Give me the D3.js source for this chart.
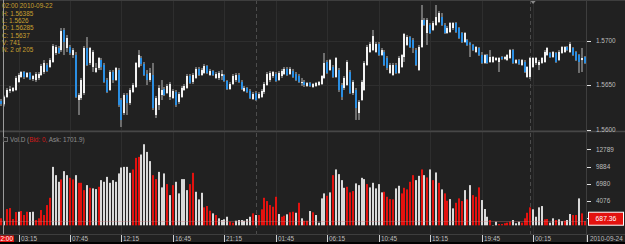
<!DOCTYPE html>
<html>
<head>
<meta charset="utf-8">
<script src="https://cdn.jsdelivr.net/npm/d3@7"></script>
<style>
  html, body { margin: 0; padding: 0; background: #000; }
  #chart { width: 625px; height: 244px; }
  text { font-family: "Liberation Sans", Arial, sans-serif; }
</style>
</head>
<body>
<div id="chart"></div>
<script>
// 15-minute bars, first bar at this time
const startTime = '2010-09-22 01:45';

const open = [
  1.56322,1.56285,1.56367,1.56434,1.56434,1.56445,1.56535,1.56591,1.56647,1.56591,
  1.56636,1.56568,1.56557,1.56580,1.56613,1.56647,1.56725,1.56703,1.56759,1.56860,
  1.56916,1.56893,1.57118,1.56916,1.56927,1.56837,1.56837,1.56333,1.56355,1.56411,
  1.56916,1.56748,1.56703,1.56647,1.56692,1.56781,1.56725,1.56557,1.56445,1.56647,
  1.56557,1.56669,1.56333,1.56187,1.56389,1.56299,1.56423,1.56479,1.56703,1.56804,
  1.56737,1.56624,1.56557,1.56613,1.56165,1.56277,1.56389,1.56456,1.56411,1.56367,
  1.56355,1.56423,1.56311,1.56367,1.56445,1.56468,1.56602,1.56535,1.56580,1.56681,
  1.56613,1.56636,1.56714,1.56613,1.56658,1.56580,1.56580,1.56602,1.56613,1.56546,
  1.56456,1.56512,1.56557,1.56613,1.56535,1.56434,1.56468,1.56434,1.56344,1.56411,
  1.56355,1.56367,1.56423,1.56501,1.56557,1.56602,1.56624,1.56557,1.56602,1.56624,
  1.56681,1.56624,1.56658,1.56624,1.56602,1.56524,1.56535,1.56490,1.56524,1.56479,
  1.56490,1.56501,1.56512,1.56580,1.56759,1.56669,1.56703,1.56591,1.56669,1.56501,
  1.56468,1.56501,1.56647,1.56411,1.56445,1.56187,1.56333,1.56445,1.56725,1.56871,
  1.56893,1.56871,1.56961,1.56837,1.56871,1.56804,1.56636,1.56613,1.56725,1.56636,
  1.56703,1.56815,1.56950,1.57039,1.57006,1.56893,1.56669,1.56927,1.57230,1.57084,
  1.57174,1.57118,1.57174,1.57207,1.57263,1.57174,1.57084,1.57095,1.57140,1.57196,
  1.57140,1.57084,1.56983,1.57006,1.56972,1.56950,1.56871,1.56916,1.56837,1.56748,
  1.56837,1.56759,1.56759,1.56781,1.56759,1.56815,1.56793,1.56781,1.56804,1.56893,
  1.56748,1.56781,1.56725,1.56759,1.56591,1.56591,1.56703,1.56748,1.56725,1.56748,
  1.56759,1.56837,1.56860,1.56815,1.56860,1.56781,1.56860,1.56871,1.56927,1.56871,
  1.56916,1.56871,1.56837,1.56781,1.56815
];

const high = [
  1.56344,1.56385,1.56468,1.56490,1.56479,1.56602,1.56636,1.56658,1.56658,1.56647,
  1.56647,1.56613,1.56647,1.56647,1.56737,1.56781,1.56748,1.56804,1.56961,1.56950,
  1.56938,1.57140,1.57140,1.57062,1.56950,1.56916,1.56871,1.56411,1.56580,1.56938,
  1.57039,1.56927,1.56893,1.56748,1.56815,1.56804,1.56748,1.56580,1.56669,1.56669,
  1.56703,1.56692,1.56355,1.56411,1.56411,1.56468,1.56524,1.56759,1.56893,1.56826,
  1.56759,1.56669,1.56692,1.56748,1.56378,1.56501,1.56557,1.56479,1.56512,1.56535,
  1.56456,1.56445,1.56423,1.56490,1.56512,1.56624,1.56624,1.56636,1.56703,1.56703,
  1.56692,1.56737,1.56725,1.56681,1.56669,1.56647,1.56658,1.56669,1.56624,1.56557,
  1.56535,1.56624,1.56636,1.56636,1.56557,1.56490,1.56479,1.56456,1.56423,1.56434,
  1.56423,1.56456,1.56535,1.56647,1.56658,1.56658,1.56647,1.56658,1.56681,1.56703,
  1.56703,1.56703,1.56681,1.56647,1.56624,1.56580,1.56557,1.56535,1.56535,1.56524,
  1.56535,1.56546,1.56613,1.56860,1.56781,1.56793,1.56725,1.56815,1.56692,1.56524,
  1.56602,1.56781,1.56669,1.56557,1.56468,1.56333,1.56557,1.56770,1.56950,1.56983,
  1.57118,1.56983,1.56983,1.56916,1.56893,1.56826,1.56748,1.56748,1.56748,1.56826,
  1.56849,1.57084,1.57062,1.57050,1.57028,1.56916,1.56950,1.57398,1.57252,1.57252,
  1.57196,1.57219,1.57398,1.57331,1.57308,1.57196,1.57163,1.57207,1.57207,1.57207,
  1.57151,1.57095,1.57095,1.57017,1.56983,1.56961,1.56938,1.56927,1.56871,1.56849,
  1.56849,1.56893,1.56826,1.56815,1.56815,1.56826,1.56826,1.56849,1.56905,1.56905,
  1.56793,1.56793,1.56793,1.56781,1.56714,1.56815,1.56815,1.56815,1.56781,1.56815,
  1.56893,1.56927,1.56871,1.56882,1.56871,1.56893,1.56938,1.56938,1.56938,1.56983,
  1.56927,1.56882,1.56849,1.56916,1.56826
];

const low = [
  1.56266,1.56260,1.56355,1.56411,1.56423,1.56434,1.56524,1.56580,1.56568,1.56580,
  1.56557,1.56546,1.56535,1.56557,1.56602,1.56624,1.56647,1.56692,1.56748,1.56837,
  1.56849,1.56871,1.56837,1.56871,1.56837,1.56804,1.56355,1.56165,1.56333,1.56389,
  1.56714,1.56725,1.56647,1.56636,1.56669,1.56669,1.56524,1.56411,1.56434,1.56524,
  1.56546,1.56255,1.56030,1.56165,1.56165,1.56277,1.56411,1.56468,1.56692,1.56714,
  1.56602,1.56501,1.56535,1.56221,1.56131,1.56221,1.56333,1.56378,1.56400,1.56333,
  1.56344,1.56255,1.56288,1.56355,1.56434,1.56456,1.56512,1.56512,1.56568,1.56602,
  1.56602,1.56624,1.56624,1.56602,1.56602,1.56568,1.56557,1.56557,1.56535,1.56445,
  1.56445,1.56501,1.56535,1.56524,1.56445,1.56423,1.56411,1.56344,1.56333,1.56322,
  1.56344,1.56355,1.56400,1.56490,1.56535,1.56580,1.56535,1.56546,1.56580,1.56613,
  1.56602,1.56613,1.56580,1.56546,1.56524,1.56490,1.56479,1.56479,1.56479,1.56468,
  1.56479,1.56490,1.56501,1.56568,1.56624,1.56658,1.56580,1.56580,1.56423,1.56333,
  1.56445,1.56490,1.56400,1.56389,1.56109,1.56109,1.56322,1.56434,1.56714,1.56860,
  1.56882,1.56860,1.56826,1.56826,1.56714,1.56669,1.56624,1.56602,1.56624,1.56624,
  1.56692,1.56759,1.56938,1.56916,1.56860,1.56714,1.56658,1.56916,1.57163,1.56950,
  1.57073,1.57106,1.57163,1.57196,1.57163,1.57073,1.57073,1.57084,1.57118,1.57084,
  1.57017,1.56972,1.56972,1.56938,1.56815,1.56882,1.56860,1.56826,1.56737,1.56737,
  1.56737,1.56748,1.56748,1.56770,1.56647,1.56781,1.56781,1.56770,1.56793,1.56737,
  1.56737,1.56725,1.56714,1.56636,1.56580,1.56568,1.56692,1.56725,1.56669,1.56737,
  1.56748,1.56826,1.56804,1.56804,1.56748,1.56770,1.56849,1.56860,1.56882,1.56860,
  1.56826,1.56770,1.56636,1.56647,1.56737
];

const close = [
  1.56288,1.56370,1.56445,1.56456,1.56468,1.56580,1.56613,1.56647,1.56591,1.56636,
  1.56568,1.56602,1.56624,1.56624,1.56714,1.56748,1.56658,1.56781,1.56938,1.56927,
  1.56860,1.57106,1.56983,1.57028,1.56860,1.56893,1.56367,1.56389,1.56557,1.56916,
  1.56725,1.56916,1.56871,1.56692,1.56804,1.56703,1.56535,1.56423,1.56647,1.56557,
  1.56692,1.56277,1.56109,1.56389,1.56299,1.56445,1.56501,1.56748,1.56837,1.56737,
  1.56613,1.56557,1.56636,1.56243,1.56355,1.56468,1.56445,1.56389,1.56490,1.56512,
  1.56434,1.56277,1.56400,1.56468,1.56490,1.56602,1.56524,1.56613,1.56681,1.56613,
  1.56669,1.56714,1.56636,1.56658,1.56613,1.56624,1.56636,1.56624,1.56546,1.56456,
  1.56512,1.56602,1.56613,1.56535,1.56456,1.56468,1.56423,1.56355,1.56400,1.56333,
  1.56400,1.56434,1.56512,1.56624,1.56636,1.56647,1.56546,1.56636,1.56658,1.56681,
  1.56613,1.56681,1.56591,1.56557,1.56535,1.56535,1.56501,1.56524,1.56490,1.56512,
  1.56524,1.56535,1.56602,1.56748,1.56636,1.56781,1.56591,1.56804,1.56445,1.56367,
  1.56580,1.56759,1.56411,1.56535,1.56243,1.56311,1.56535,1.56748,1.56927,1.56961,
  1.57050,1.56961,1.56837,1.56893,1.56725,1.56692,1.56725,1.56725,1.56636,1.56804,
  1.56837,1.57073,1.57039,1.56927,1.56916,1.56725,1.56927,1.57230,1.57174,1.57230,
  1.57084,1.57196,1.57263,1.57308,1.57174,1.57084,1.57140,1.57196,1.57196,1.57095,
  1.57028,1.56983,1.57084,1.56950,1.56950,1.56893,1.56927,1.56837,1.56748,1.56837,
  1.56748,1.56815,1.56815,1.56804,1.56804,1.56793,1.56815,1.56837,1.56893,1.56748,
  1.56781,1.56737,1.56781,1.56647,1.56703,1.56804,1.56804,1.56804,1.56759,1.56804,
  1.56871,1.56916,1.56815,1.56871,1.56759,1.56871,1.56927,1.56927,1.56893,1.56961,
  1.56837,1.56781,1.56759,1.56804,1.56748
];

const volume = [
  1180,741,2730,2900,1060,2230,2280,2400,1730,2280,
  2230,2280,890,1175,2570,1730,3400,4630,9830,8440,
  7320,7720,9110,8440,7990,7720,8440,7150,7150,5920,
  6760,6310,6210,6090,6480,7600,7320,8150,7150,7600,
  7320,8730,9730,9830,9830,8830,9400,11340,11510,11910,
  13640,12350,10800,8440,7770,8990,6380,8730,6930,5080,
  6760,7320,5370,7770,7770,5920,6930,8830,5640,4360,
  5470,3020,3240,2450,2010,1730,1175,890,1010,1440,
  600,440,770,890,890,770,1060,1440,2010,1730,
  1730,2690,4630,4080,3410,3120,4800,1900,1440,1610,
  1850,2180,2280,2110,3790,1175,770,770,2400,2180,
  1730,440,4530,5370,4970,5540,8440,9400,8610,7600,
  6310,6480,5540,5760,7050,6760,7990,7770,6930,6380,
  7150,6210,6930,5540,5640,4800,4410,4360,6210,6650,
  5370,6310,6040,7320,8440,7600,8320,9400,8440,8050,
  9400,7600,8890,7150,6040,5370,4130,4410,2850,3790,
  4530,4080,5920,4360,6760,5080,4800,6380,4250,2740,
  1440,890,50,600,220,220,340,440,600,890,
  340,600,440,1175,2110,3020,2690,1440,3020,3240,
  1010,1060,440,1175,890,1010,720,770,890,1900,
  1730,1730,4530,2010,687.36
];

// 1 = ask volume (light bar), 0 = bid volume (red bar)
const volSide = [
  0,1,0,0,0,0,1,0,0,0,
  1,1,0,0,0,0,0,0,1,1,
  1,0,1,1,0,0,1,0,0,0,
  1,0,1,1,0,1,1,1,1,1,
  1,1,1,1,1,1,0,0,0,1,
  1,1,1,0,0,1,1,1,0,1,
  0,1,1,1,1,1,0,0,1,1,
  1,0,0,0,1,0,1,1,1,1,
  0,0,1,1,1,1,1,1,0,1,
  0,0,0,0,0,0,0,1,0,0,
  1,0,0,1,0,1,0,0,1,0,
  1,1,1,1,0,1,0,1,1,1,
  1,0,0,0,1,1,1,1,0,1,
  1,1,1,1,0,0,0,0,1,1,
  0,0,0,0,0,1,1,0,1,0,
  1,0,1,0,1,0,0,1,1,0,
  0,0,1,0,1,0,0,0,1,1,
  1,0,1,1,0,0,0,0,0,1,
  1,1,0,0,0,0,1,1,1,1,
  0,0,1,1,0,1,1,0,1,1,
  0,0,1,0,0
];

const priceTicks = [1.5600, 1.5650, 1.5700];
const volumeTicks = [1171, 4076, 6980, 9884, 12789];
const infoLines = ['02:00 2010-09-22', 'H: 1.56385', 'L: 1.5626', 'O: 1.56285', 'C: 1.5637', 'V: 741', 'N: 2 of 205'];
const volumeLegend = ['Vol.D (', 'Bid: 0,', ' Ask: 1701.9)'];
const cursorIndex = 1;

document.addEventListener('DOMContentLoaded', () => {
  const CONFIG = {
    width: 625,
    height: 244,
    plotRight: 586,
    priceBottom: 131,
    volBottom: 234,
    axisBottom: 242,
    bg: '#212121',
    grid: '#2e2e2e',
    frame: '#3e3e3e',
    tickText: '#bdbdbd',
    upColor: '#f2f2f2',
    downColor: '#2b8fe3',
    wickColor: '#6e6e6e',
    askColor: '#d9d9d9',
    bidColor: '#e3120f',
    infoColor: '#c9a030',
    fontSize: 6.4,
    barWidth: 2
  };

  const parse = d3.timeParse('%Y-%m-%d %H:%M');
  const t0 = parse(startTime);
  const bars = close.map((c, i) => ({
    i, o: open[i], h: high[i], l: low[i], c,
    v: volume[i], side: volSide[i],
    t: d3.timeMinute.offset(t0, 15 * i)
  }));

  const svg = d3.select('#chart').append('svg')
    .attr('width', CONFIG.width)
    .attr('height', CONFIG.height)
    .style('display', 'block');

  svg.append('rect')
    .attr('width', CONFIG.width).attr('height', CONFIG.height)
    .attr('fill', '#000');
  svg.append('rect')
    .attr('width', CONFIG.width).attr('height', CONFIG.axisBottom)
    .attr('fill', CONFIG.bg);

  // scales
  const x = d3.scaleBand()
    .domain(bars.map(d => d.i))
    .range([0, CONFIG.plotRight]);
  const cx = i => x(i) + x.bandwidth() / 2;
  const bx = i => Math.round(cx(i) - CONFIG.barWidth / 2);

  const y = d3.scaleLinear().domain([1.5600, 1.5700]).range([129.7, 40.5]);
  const yv = d3.scaleLinear().domain([0, 12789]).range([225.3, 149.3]);

  // time ticks every 4.5 hours, day breaks at midnight
  const fmtTime = d3.timeFormat('%H:%M');
  const timeTicks = bars.filter(d => d3.timeMinute.count(t0, d.t) % 270 === 90 && d.i < bars.length - 9);
  const dayBreaks = bars.filter(d => d.t.getHours() === 0 && d.t.getMinutes() === 0);

  const grid = svg.append('g');
  grid.selectAll('line.vg')
    .data(timeTicks).enter().append('line')
    .attr('x1', d => Math.round(cx(d.i)) + 0.5).attr('x2', d => Math.round(cx(d.i)) + 0.5)
    .attr('y1', 0).attr('y2', CONFIG.volBottom)
    .attr('stroke', CONFIG.grid);
  grid.selectAll('line.hg')
    .data(priceTicks).enter().append('line')
    .attr('x1', 0).attr('x2', CONFIG.plotRight)
    .attr('y1', d => Math.round(y(d)) + 0.5).attr('y2', d => Math.round(y(d)) + 0.5)
    .attr('stroke', CONFIG.grid);
  grid.selectAll('line.day')
    .data(dayBreaks).enter().append('line')
    .attr('x1', d => Math.round(cx(d.i)) + 0.5).attr('x2', d => Math.round(cx(d.i)) + 0.5)
    .attr('y1', 0).attr('y2', CONFIG.volBottom)
    .attr('stroke', '#4c4c4c')
    .attr('stroke-dasharray', '4,3');

  // frame lines
  svg.append('line')
    .attr('x1', 0).attr('x2', CONFIG.width).attr('y1', 0.5).attr('y2', 0.5)
    .attr('stroke', CONFIG.frame);
  svg.append('line')
    .attr('x1', 0).attr('x2', CONFIG.width)
    .attr('y1', CONFIG.priceBottom + 0.5).attr('y2', CONFIG.priceBottom + 0.5)
    .attr('stroke', '#474747').attr('stroke-width', 1.5);
  svg.append('line')
    .attr('x1', 0).attr('x2', CONFIG.width)
    .attr('y1', CONFIG.volBottom + 0.5).attr('y2', CONFIG.volBottom + 0.5)
    .attr('stroke', CONFIG.frame);
  svg.append('line')
    .attr('x1', CONFIG.plotRight + 0.5).attr('x2', CONFIG.plotRight + 0.5)
    .attr('y1', 0).attr('y2', CONFIG.axisBottom)
    .attr('stroke', CONFIG.frame);

  // candles: grey wick, white (up) or blue (down) body
  const candles = svg.append('g').selectAll('g')
    .data(bars).enter().append('g');
  candles.append('rect')
    .attr('x', d => bx(d.i))
    .attr('width', CONFIG.barWidth)
    .attr('y', d => y(d.h))
    .attr('height', d => Math.max(1, y(d.l) - y(d.h)))
    .attr('fill', CONFIG.wickColor);
  candles.append('rect')
    .attr('x', d => bx(d.i))
    .attr('width', CONFIG.barWidth)
    .attr('y', d => y(Math.max(d.o, d.c)))
    .attr('height', d => Math.max(1, Math.abs(y(d.o) - y(d.c))))
    .attr('fill', d => d.c >= d.o ? CONFIG.upColor : CONFIG.downColor);

  // volume bars
  svg.append('g').selectAll('rect')
    .data(bars).enter().append('rect')
    .attr('x', d => bx(d.i))
    .attr('width', CONFIG.barWidth)
    .attr('y', d => yv(d.v))
    .attr('height', d => yv(0) - yv(d.v))
    .attr('fill', d => d.side ? CONFIG.askColor : CONFIG.bidColor);

  // last volume level line
  const last = bars[bars.length - 1];
  const vy = yv(last.v);
  svg.append('line')
    .attr('x1', 0).attr('x2', CONFIG.plotRight)
    .attr('y1', Math.round(vy) + 0.5).attr('y2', Math.round(vy) + 0.5)
    .attr('stroke', '#c87878').attr('stroke-opacity', 0.35);

  // right axes
  const axisG = svg.append('g');
  const rightTick = (g, data, scale, fmt) => {
    g.selectAll(null).data(data).enter().append('line')
      .attr('x1', CONFIG.plotRight + 1).attr('x2', CONFIG.plotRight + 5)
      .attr('y1', d => Math.round(scale(d)) + 0.5).attr('y2', d => Math.round(scale(d)) + 0.5)
      .attr('stroke', '#e0e0e0');
    // labels hidden under the last-value box are not drawn
    g.selectAll(null).data(data.filter(d => scale !== yv || Math.abs(scale(d) - vy) > 8))
      .enter().append('text')
      .attr('x', CONFIG.plotRight + 10)
      .attr('y', d => scale(d) + 2.3)
      .attr('fill', CONFIG.tickText)
      .style('font-size', CONFIG.fontSize + 'px')
      .text(fmt);
  };
  rightTick(axisG, priceTicks, y, d3.format('.4f'));
  rightTick(axisG, volumeTicks, yv, d => d);

  // bottom time axis
  const bottom = svg.append('g');
  bottom.selectAll('line').data(timeTicks).enter().append('line')
    .attr('x1', d => Math.round(cx(d.i)) + 0.5).attr('x2', d => Math.round(cx(d.i)) + 0.5)
    .attr('y1', CONFIG.volBottom + 1).attr('y2', CONFIG.axisBottom)
    .attr('stroke', '#d0d0d0');
  bottom.selectAll('text').data(timeTicks).enter().append('text')
    .attr('x', d => Math.round(cx(d.i)) + 2)
    .attr('y', CONFIG.axisBottom - 1.5)
    .attr('fill', CONFIG.tickText)
    .style('font-size', CONFIG.fontSize + 'px')
    .text(d => fmtTime(d.t));
  bottom.append('line')
    .attr('x1', CONFIG.plotRight + 1.5).attr('x2', CONFIG.plotRight + 1.5)
    .attr('y1', CONFIG.volBottom + 1).attr('y2', CONFIG.axisBottom)
    .attr('stroke', '#d0d0d0');
  bottom.append('text')
    .attr('x', CONFIG.plotRight + 4)
    .attr('y', CONFIG.axisBottom - 1.5)
    .attr('fill', CONFIG.tickText)
    .style('font-size', CONFIG.fontSize + 'px')
    .text(d3.timeFormat('%Y-%m-%d')(last.t));

  // cursor
  const cur = bars[cursorIndex];
  svg.append('line')
    .attr('x1', Math.round(cx(cur.i)) - 0.5).attr('x2', Math.round(cx(cur.i)) - 0.5)
    .attr('y1', 0).attr('y2', CONFIG.volBottom)
    .attr('stroke', '#9a9a9a');
  svg.append('rect')
    .attr('x', 0).attr('y', CONFIG.volBottom + 1.5)
    .attr('width', 14).attr('height', CONFIG.axisBottom - CONFIG.volBottom - 1.5)
    .attr('fill', '#e3120f');
  svg.append('text')
    .attr('x', 0.5).attr('y', CONFIG.axisBottom - 1.5)
    .attr('fill', '#fff')
    .style('font-size', CONFIG.fontSize + 'px')
    .text(fmtTime(cur.t).slice(1));

  // marker at top
  const mk = cx(186);
  svg.append('path')
    .attr('d', `M${mk - 2.5},1 L${mk + 2.5},1 L${mk},4 Z`)
    .attr('fill', '#8a8a8a');

  // last volume label
  svg.append('rect')
    .attr('x', CONFIG.plotRight + 2.5).attr('y', vy - 9)
    .attr('width', 35).attr('height', 13)
    .attr('fill', '#e3120f').attr('stroke', '#fff');
  svg.append('text')
    .attr('x', CONFIG.plotRight + 20).attr('y', vy)
    .attr('text-anchor', 'middle')
    .attr('fill', '#fff')
    .style('font-size', (CONFIG.fontSize + 0.4) + 'px')
    .text(d3.format('.2f')(last.v));

  // info block
  svg.append('g').selectAll('text')
    .data(infoLines).enter().append('text')
    .attr('x', 2)
    .attr('y', (d, i) => 8.3 + i * 7.3)
    .attr('fill', CONFIG.infoColor)
    .style('font-size', CONFIG.fontSize + 'px')
    .text(d => d);

  // volume legend
  svg.append('rect')
    .attr('x', 3.5).attr('y', 137.5).attr('width', 4).attr('height', 4)
    .attr('fill', 'none').attr('stroke', '#6a6a6a');
  const leg = svg.append('text')
    .attr('x', 10).attr('y', 142)
    .style('font-size', CONFIG.fontSize + 'px');
  leg.selectAll('tspan').data(volumeLegend).enter().append('tspan')
    .attr('fill', (d, i) => i === 1 ? '#d11a1a' : '#8f8f8f')
    .text(d => d);
});
</script>
</body>
</html>
